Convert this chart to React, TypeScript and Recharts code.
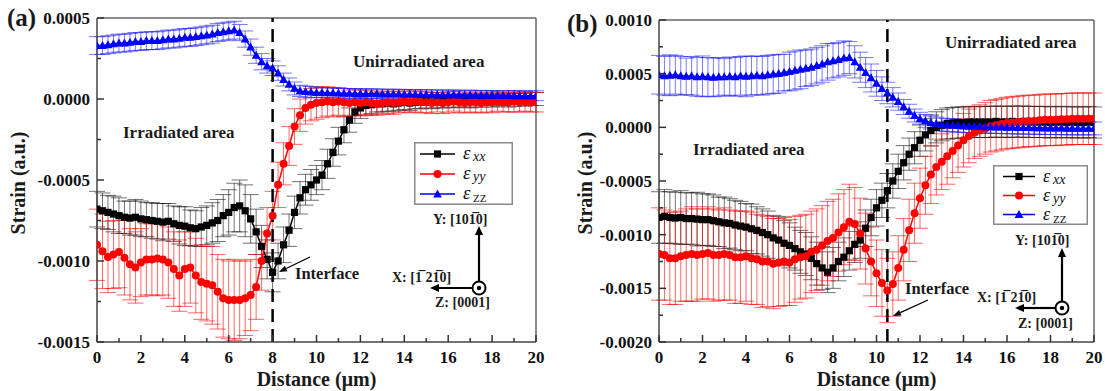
import React from 'react'
import { LineChart, Line, XAxis, YAxis, ErrorBar, ReferenceLine, Legend } from 'recharts'

const SERIF = '"Liberation Serif", "Times New Roman", serif'

// distance along the scan (µm), same grid for both panels
const distance = [
  0, 0.25, 0.5, 0.75, 1, 1.25, 1.5, 1.75, 2, 2.25,
  2.5, 2.75, 3, 3.25, 3.5, 3.75, 4, 4.25, 4.5, 4.75,
  5, 5.25, 5.5, 5.75, 6, 6.25, 6.5, 6.75, 7, 7.25,
  7.5, 7.75, 8, 8.25, 8.5, 8.75, 9, 9.25, 9.5, 9.75,
  10, 10.25, 10.5, 10.75, 11, 11.25, 11.5, 11.75, 12, 12.25,
  12.5, 12.75, 13, 13.25, 13.5, 13.75, 14, 14.25, 14.5, 14.75,
  15, 15.25, 15.5, 15.75, 16, 16.25, 16.5, 16.75, 17, 17.25,
  17.5, 17.75, 18, 18.25, 18.5, 18.75, 19, 19.25, 19.5, 19.75,
  20,
]

// all strain values below are in units of 1e-4

// panel (a)
const exxA = [
  -6.8, -6.9, -7.0, -7.1, -7.2, -7.3, -7.35, -7.3, -7.4, -7.45,
  -7.5, -7.55, -7.6, -7.55, -7.7, -7.8, -7.85, -7.95, -8.0, -7.9,
  -7.8, -7.65, -7.5, -7.2, -7.0, -6.7, -6.6, -6.9, -7.4, -8.2,
  -9.1, -9.9, -10.7, -10.0, -9.0, -8.1, -7.0, -6.1, -5.6, -5.3,
  -5.0, -4.7, -4.0, -3.3, -2.6, -1.9, -1.3, -0.8, -0.55, -0.4,
  -0.35, -0.3, -0.3, -0.25, -0.3, -0.25, -0.2, -0.25, -0.2, -0.2,
  -0.15, -0.2, -0.15, -0.15, -0.1, -0.15, -0.1, -0.1, -0.15, -0.1,
  -0.1, -0.05, -0.1, -0.05, -0.05, -0.1, -0.05, 0, -0.05, 0,
  0,
]
const exxErrA = [
  1.1, 1.1, 1.05, 1.1, 1.1, 1.0, 1.05, 1.1, 1.1, 1.05,
  1.1, 1.1, 1.15, 1.1, 1.1, 1.15, 1.2, 1.1, 1.1, 1.2,
  1.2, 1.25, 1.3, 1.3, 1.4, 1.5, 1.6, 1.6, 1.5, 1.4,
  1.3, 1.2, 1.2, 1.1, 1.1, 1.0, 1.0, 1.0, 0.95, 0.95,
  0.9, 0.9, 0.9, 0.85, 0.85, 0.8, 0.75, 0.7, 0.65, 0.6,
  0.55, 0.5, 0.5, 0.5, 0.45, 0.45, 0.45, 0.45, 0.4, 0.4,
  0.4, 0.4, 0.4, 0.4, 0.4, 0.4, 0.4, 0.4, 0.4, 0.4,
  0.4, 0.35, 0.4, 0.4, 0.35, 0.4, 0.4, 0.35, 0.4, 0.4,
  0.4,
]
const eyyA = [
  -9.0, -9.4, -9.75, -9.6, -9.45, -9.8, -10.2, -10.4, -10.1, -9.9,
  -9.9, -9.85, -9.9, -10.1, -10.5, -10.9, -10.5, -10.4, -10.9, -11.3,
  -11.4, -11.5, -11.9, -12.3, -12.4, -12.4, -12.4, -12.3, -12.1, -11.6,
  -10.0, -8.3, -7.2, -5.3, -4.0, -2.9, -1.7, -1.0, -0.55, -0.35,
  -0.25, -0.2, -0.15, -0.2, -0.15, -0.2, -0.25, -0.2, -0.25, -0.2,
  -0.25, -0.3, -0.25, -0.2, -0.25, -0.2, -0.15, -0.2, -0.15, -0.2,
  -0.2, -0.25, -0.2, -0.25, -0.2, -0.15, -0.2, -0.25, -0.2, -0.2,
  -0.25, -0.2, -0.2, -0.15, -0.2, -0.2, -0.15, -0.2, -0.15, -0.2,
  -0.2,
]
const eyyErrA = [
  2.2, 2.3, 2.2, 2.1, 2.2, 2.3, 2.2, 2.2, 2.1, 2.2,
  2.2, 2.3, 2.2, 2.2, 2.3, 2.2, 2.3, 2.2, 2.3, 2.3,
  2.3, 2.4, 2.3, 2.4, 2.4, 2.5, 2.4, 2.3, 2.2, 2.0,
  1.8, 1.6, 1.5, 1.4, 1.3, 1.2, 1.1, 1.0, 1.0, 1.0,
  1.0, 0.95, 0.9, 0.9, 0.85, 0.85, 0.8, 0.8, 0.8, 0.75,
  0.75, 0.7, 0.7, 0.7, 0.7, 0.65, 0.65, 0.65, 0.65, 0.65,
  0.65, 0.65, 0.6, 0.65, 0.65, 0.6, 0.65, 0.6, 0.6, 0.65,
  0.6, 0.6, 0.65, 0.6, 0.6, 0.6, 0.65, 0.6, 0.6, 0.6,
  0.6,
]
const ezzA = [
  3.3, 3.3, 3.35, 3.4, 3.45, 3.45, 3.5, 3.55, 3.55, 3.6,
  3.6, 3.6, 3.65, 3.7, 3.7, 3.75, 3.8, 3.8, 3.85, 3.9,
  3.95, 4.0, 4.1, 4.15, 4.2, 4.25, 4.1, 3.7, 3.2, 2.7,
  2.3, 2.05, 1.9, 1.6, 1.2, 0.9, 0.65, 0.5, 0.45, 0.42,
  0.4, 0.4, 0.38, 0.38, 0.36, 0.35, 0.35, 0.34, 0.33, 0.33,
  0.32, 0.32, 0.3, 0.3, 0.3, 0.3, 0.28, 0.28, 0.28, 0.27,
  0.27, 0.26, 0.26, 0.25, 0.25, 0.25, 0.24, 0.24, 0.24, 0.23,
  0.23, 0.22, 0.22, 0.22, 0.21, 0.21, 0.2, 0.2, 0.2, 0.2,
  0.2,
]
const ezzErrA = [
  0.55, 0.55, 0.55, 0.55, 0.55, 0.55, 0.55, 0.55, 0.55, 0.55,
  0.55, 0.55, 0.55, 0.55, 0.55, 0.55, 0.55, 0.55, 0.55, 0.55,
  0.55, 0.55, 0.55, 0.55, 0.55, 0.55, 0.5, 0.5, 0.5, 0.5,
  0.5, 0.45, 0.45, 0.45, 0.4, 0.4, 0.4, 0.35, 0.35, 0.35,
  0.3, 0.3, 0.3, 0.3, 0.3, 0.3, 0.3, 0.3, 0.3, 0.3,
  0.3, 0.3, 0.3, 0.3, 0.3, 0.3, 0.3, 0.3, 0.3, 0.3,
  0.3, 0.3, 0.3, 0.3, 0.3, 0.3, 0.3, 0.3, 0.3, 0.3,
  0.3, 0.3, 0.3, 0.3, 0.3, 0.3, 0.3, 0.3, 0.3, 0.3,
  0.3,
]

// panel (b)
const exxB = [
  -8.4, -8.3, -8.4, -8.45, -8.4, -8.5, -8.5, -8.55, -8.6, -8.6,
  -8.7, -8.8, -8.9, -8.95, -9.1, -9.2, -9.3, -9.45, -9.6, -9.8,
  -10.0, -10.3, -10.5, -10.8, -11.0, -11.3, -11.6, -11.8, -12.2, -12.7,
  -13.1, -13.5, -13.1, -12.5, -12.1, -11.5, -10.9, -10.5, -9.4, -8.4,
  -7.5, -6.8, -5.9, -5.0, -4.1, -3.3, -2.5, -1.9, -1.2, -0.7,
  -0.3, 0.0, 0.2, 0.35, 0.4, 0.45, 0.45, 0.5, 0.5, 0.5,
  0.5, 0.5, 0.55, 0.5, 0.5, 0.55, 0.5, 0.55, 0.5, 0.5,
  0.5, 0.5, 0.45, 0.5, 0.5, 0.45, 0.5, 0.45, 0.45, 0.5,
  0.45,
]
const exxErrB = [
  2.4, 2.5, 2.4, 2.4, 2.5, 2.4, 2.4, 2.5, 2.4, 2.4,
  2.4, 2.3, 2.4, 2.3, 2.3, 2.3, 2.2, 2.3, 2.2, 2.2,
  2.2, 2.1, 2.2, 2.1, 2.1, 2.0, 2.0, 2.0, 2.0, 2.0,
  2.0, 1.9, 1.9, 1.8, 1.8, 1.8, 1.7, 1.7, 1.7, 1.7,
  1.7, 1.6, 1.6, 1.6, 1.6, 1.6, 1.5, 1.5, 1.5, 1.5,
  1.45, 1.45, 1.45, 1.45, 1.45, 1.45, 1.45, 1.45, 1.45, 1.45,
  1.45, 1.45, 1.45, 1.45, 1.45, 1.45, 1.45, 1.45, 1.45, 1.45,
  1.45, 1.45, 1.45, 1.45, 1.45, 1.45, 1.45, 1.45, 1.45, 1.45,
  1.45,
]
const eyyB = [
  -11.8, -11.9, -12.2, -12.2, -12.0, -11.9, -11.8, -11.9, -11.8, -11.7,
  -11.9, -11.9, -11.8, -11.9, -12.1, -12.1, -12.0, -12.2, -12.3, -12.5,
  -12.5, -12.7, -12.6, -12.5, -12.6, -12.3, -12.1, -12.0, -11.6, -11.4,
  -11.0, -10.6, -10.3, -9.8, -9.3, -8.8, -9.0, -9.9, -11.3, -12.5,
  -13.6, -14.5, -15.2, -14.6, -13.1, -11.4, -9.6, -8.0, -6.6, -5.4,
  -4.4, -3.7, -3.2, -2.7, -2.2, -1.7, -1.2, -0.8, -0.5, -0.3,
  -0.1, 0.1, 0.2, 0.3, 0.4, 0.45, 0.5, 0.55, 0.6, 0.6,
  0.65, 0.7, 0.7, 0.7, 0.75, 0.75, 0.8, 0.8, 0.8, 0.8,
  0.8,
]
const eyyErrB = [
  4.3, 4.2, 4.3, 4.3, 4.2, 4.3, 4.4, 4.3, 4.2, 4.3,
  4.3, 4.2, 4.3, 4.2, 4.3, 4.3, 4.2, 4.3, 4.2, 4.3,
  4.2, 4.2, 4.1, 4.1, 4.0, 4.0, 3.9, 3.9, 3.8, 3.8,
  3.7, 3.7, 3.6, 3.6, 3.5, 3.5, 3.4, 3.3, 3.3, 3.2,
  3.1, 3.1, 3.0, 3.0, 3.0, 2.9, 2.9, 2.8, 2.8, 2.7,
  2.7, 2.6, 2.6, 2.6, 2.5, 2.5, 2.5, 2.5, 2.4, 2.4,
  2.4, 2.4, 2.4, 2.4, 2.4, 2.4, 2.4, 2.4, 2.4, 2.4,
  2.4, 2.4, 2.4, 2.4, 2.4, 2.4, 2.4, 2.4, 2.4, 2.4,
  2.4,
]
const ezzB = [
  4.9, 4.8, 4.85, 4.9, 4.8, 4.75, 4.8, 4.7, 4.75, 4.7,
  4.65, 4.7, 4.7, 4.75, 4.7, 4.8, 4.75, 4.8, 4.85, 4.8,
  4.9, 4.95, 5.0, 5.1, 5.2, 5.3, 5.4, 5.5, 5.6, 5.75,
  5.9, 6.1, 6.2, 6.3, 6.45, 6.5, 6.1, 5.6, 5.1, 4.6,
  4.1, 3.6, 3.2, 2.8, 2.4, 1.9, 1.5, 1.1, 0.8, 0.6,
  0.45, 0.35, 0.25, 0.2, 0.18, 0.15, 0.12, 0.1, 0.1, 0.08,
  0.05, 0.05, 0.03, 0.02, 0, 0, -0.02, -0.03, -0.03, -0.05,
  -0.05, -0.06, -0.07, -0.08, -0.08, -0.09, -0.1, -0.1, -0.1, -0.1,
  -0.1,
]
const ezzErrB = [
  1.8, 1.8, 1.9, 1.8, 1.8, 1.7, 1.8, 1.8, 1.9, 1.8,
  1.8, 1.8, 1.7, 1.8, 1.8, 1.8, 1.9, 1.8, 1.8, 1.8,
  1.8, 1.8, 1.8, 1.7, 1.8, 1.8, 1.8, 1.7, 1.7, 1.7,
  1.7, 1.7, 1.6, 1.6, 1.6, 1.5, 1.5, 1.4, 1.4, 1.3,
  1.2, 1.1, 1.0, 0.9, 0.8, 0.7, 0.65, 0.6, 0.6, 0.6,
  0.6, 0.6, 0.6, 0.6, 0.6, 0.6, 0.6, 0.6, 0.6, 0.6,
  0.6, 0.6, 0.6, 0.6, 0.6, 0.6, 0.6, 0.6, 0.6, 0.6,
  0.6, 0.6, 0.6, 0.6, 0.6, 0.6, 0.6, 0.6, 0.6, 0.6,
  0.6,
]

const xTicks = [0, 1, 2, 3, 4, 5, 6, 7, 8, 9, 10, 11, 12, 13, 14, 15, 16, 17, 18, 19, 20]
const yTicksA = [-15, -12.5, -10, -7.5, -5, -2.5, 0, 2.5, 5]
const yTicksB = [-20, -17.5, -15, -12.5, -10, -7.5, -5, -2.5, 0, 2.5, 5, 7.5, 10]

const buildRows = (
  exx: number[], exxErr: number[], eyy: number[], eyyErr: number[], ezz: number[], ezzErr: number[],
) =>
  distance.map((x, i) => ({
    x,
    exx: exx[i], exxErr: exxErr[i],
    eyy: eyy[i], eyyErr: eyyErr[i],
    ezz: ezz[i], ezzErr: ezzErr[i],
  }))

const rowsA = buildRows(exxA, exxErrA, eyyA, eyyErrA, ezzA, ezzErrA)
const rowsB = buildRows(exxB, exxErrB, eyyB, eyyErrB, ezzB, ezzErrB)

const SquareDot = (p: any) => (
  <rect key={p.key} x={p.cx - 3.6} y={p.cy - 3.6} width={7.2} height={7.2} fill="#000" />
)
const CircleDot = (p: any) => <circle key={p.key} cx={p.cx} cy={p.cy} r={4} fill="#ff0000" />
const TriangleDot = (p: any) => (
  <path
    key={p.key}
    d={`M${p.cx},${p.cy - 4.6}L${p.cx + 4.4},${p.cy + 3.4}L${p.cx - 4.4},${p.cy + 3.4}Z`}
    fill="#0000ff"
  />
)

const XTick = ({ x, y, payload }: any) => {
  const major = payload.value % 2 === 0
  return (
    <g>
      <line x1={x} y1={y} x2={x} y2={y - (major ? 7 : 4)} stroke="#333" strokeWidth={1.5} />
      {major && (
        <text x={x} y={y + 21} textAnchor="middle" fontFamily={SERIF} fontWeight="bold" fontSize={17} fill="#111">
          {payload.value}
        </text>
      )}
    </g>
  )
}

const YTick = ({ x, y, payload }: any) => {
  const major = Math.abs(payload.value % 5) < 1e-6
  return (
    <g>
      <line x1={x} y1={y} x2={x + (major ? 7 : 4)} y2={y} stroke="#333" strokeWidth={1.5} />
      {major && (
        <text x={x - 7} y={y + 6} textAnchor="end" fontFamily={SERIF} fontWeight="bold" fontSize={17} fill="#111">
          {(payload.value * 1e-4).toFixed(4)}
        </text>
      )}
    </g>
  )
}

const LEGEND_ITEMS = [
  { sub: 'xx', color: '#000', Dot: SquareDot, italic: true },
  { sub: 'yy', color: '#ff0000', Dot: CircleDot, italic: true },
  { sub: 'ZZ', color: '#0000ff', Dot: TriangleDot, italic: false },
]

const StrainLegend = ({ w, h, rows, lineX, textX, eps }: any) => (
  <svg width={w} height={h} style={{ display: 'block', overflow: 'visible' }}>
    <rect x={0.75} y={0.75} width={w - 1.5} height={h - 1.5} fill="#fff" stroke="#8a8a8a" strokeWidth={1.5} />
    {LEGEND_ITEMS.map((it, i) => {
      const cy = rows[i]
      const mid = (lineX[0] + lineX[1]) / 2
      return (
        <g key={it.sub}>
          <line x1={lineX[0]} x2={lineX[1]} y1={cy} y2={cy} stroke={it.color} strokeWidth={1.5} />
          {it.Dot({ cx: mid, cy, key: 'm' })}
          <text x={textX} y={cy + 5} fontFamily={SERIF} fontSize={eps} fontStyle="italic" fill="#111">ε</text>
          <text
            x={textX + 10}
            y={cy + (it.italic ? 7 : 8)}
            fontFamily={SERIF}
            fontSize={it.italic ? 14 : 11}
            fontStyle={it.italic ? 'italic' : 'normal'}
            fill="#111"
          >
            {it.sub}
          </text>
        </g>
      )
    })}
  </svg>
)

function StrainPanel({ rows, width, margin, yDomain, yTicks, interfaceX, legend }: any) {
  return (
    <LineChart width={width} height={391} data={rows} margin={margin}>
      <XAxis
        type="number"
        dataKey="x"
        domain={[0, 20]}
        ticks={xTicks}
        interval={0}
        allowDataOverflow
        height={30}
        tickSize={0}
        tickMargin={0}
        tickLine={false}
        tick={<XTick />}
        axisLine={{ stroke: '#444', strokeWidth: 1.5 }}
      />
      <YAxis
        type="number"
        domain={yDomain}
        ticks={yTicks}
        interval={0}
        allowDataOverflow
        width={80}
        tickSize={0}
        tickMargin={0}
        tickLine={false}
        tick={<YTick />}
        axisLine={{ stroke: '#444', strokeWidth: 1.5 }}
      />
      <ReferenceLine y={yDomain[1]} stroke="#666" strokeWidth={1.5} />
      <ReferenceLine x={20} stroke="#666" strokeWidth={1.5} />
      <Line dataKey="exx" name="exx" stroke="#000" strokeWidth={1.5} dot={SquareDot} activeDot={false} isAnimationActive={false}>
        <ErrorBar dataKey="exxErr" direction="y" width={8} stroke="rgba(20,20,20,0.6)" strokeWidth={1} />
      </Line>
      <Line dataKey="eyy" name="eyy" stroke="#ff0000" strokeWidth={1.5} dot={CircleDot} activeDot={false} isAnimationActive={false}>
        <ErrorBar dataKey="eyyErr" direction="y" width={8} stroke="rgba(255,0,0,0.6)" strokeWidth={1} />
      </Line>
      <Line dataKey="ezz" name="ezz" stroke="#0000ff" strokeWidth={1.5} dot={TriangleDot} activeDot={false} isAnimationActive={false}>
        <ErrorBar dataKey="ezzErr" direction="y" width={8} stroke="rgba(30,30,255,0.6)" strokeWidth={1} />
      </Line>
      <ReferenceLine x={interfaceX} stroke="#000" strokeWidth={2.5} strokeDasharray="13 7" />
      <Legend
        layout="vertical"
        align="center"
        verticalAlign="middle"
        wrapperStyle={{ left: legend.left, top: legend.top, width: legend.w, height: legend.h }}
        content={() => <StrainLegend {...legend} />}
      />
    </LineChart>
  )
}

const label = { fontFamily: SERIF, fontWeight: 'bold' as const, fill: '#1a1a1a' }

function CoordSystem({ cx, cy, top, left, yText, xText, zText }: any) {
  return (
    <g>
      <line x1={cx} y1={cy - 7} x2={cx} y2={top + 8} stroke="#000" strokeWidth={2.2} />
      <path d={`M${cx},${top}L${cx + 4},${top + 9}L${cx - 4},${top + 9}Z`} fill="#000" />
      <line x1={cx - 7} y1={cy} x2={left + 8} y2={cy} stroke="#000" strokeWidth={2.2} />
      <path d={`M${left},${cy}L${left + 9},${cy - 4}L${left + 9},${cy + 4}Z`} fill="#000" />
      <circle cx={cx} cy={cy} r={6.5} fill="#fff" stroke="#000" strokeWidth={2} />
      <circle cx={cx} cy={cy} r={2.2} fill="#000" />
      <text x={yText[0]} y={yText[1]} fontSize={14} {...label}>Y: [101{'\u0305'}0]</text>
      <text x={xText[0]} y={xText[1]} fontSize={14} {...label}>X: [1{'\u0305'} 21{'\u0305'}0]</text>
      <text x={zText[0]} y={zText[1]} fontSize={14} {...label}>Z: [0001]</text>
    </g>
  )
}

function InterfaceNote({ tx, ty, from, to }: any) {
  const ang = Math.atan2(to[1] - from[1], to[0] - from[0])
  const hx = to[0] - 8 * Math.cos(ang)
  const hy = to[1] - 8 * Math.sin(ang)
  const px = 3 * Math.sin(ang)
  const py = -3 * Math.cos(ang)
  return (
    <g>
      <line x1={from[0]} y1={from[1]} x2={hx} y2={hy} stroke="#000" strokeWidth={1.3} />
      <path d={`M${to[0]},${to[1]}L${hx + px},${hy + py}L${hx - px},${hy - py}Z`} fill="#000" />
      <text x={tx} y={ty} fontSize={16.5} {...label}>Interface</text>
    </g>
  )
}

export default function App() {
  return (
    <div style={{ position: 'absolute', left: 0, top: 0, width: 1105, height: 391, background: '#fff', overflow: 'hidden' }}>
      <div style={{ position: 'absolute', left: 0, top: 0 }}>
        <StrainPanel
          rows={rowsA}
          width={550}
          margin={{ top: 18, right: 14, bottom: 19, left: 17 }}
          yDomain={[-15, 5]}
          yTicks={yTicksA}
          interfaceX={8}
          legend={{ left: 414, top: 142, w: 99, h: 63, rows: [12, 32, 52], lineX: [6, 41], textX: 49, eps: 19 }}
        />
      </div>
      <div style={{ position: 'absolute', left: 560, top: 0 }}>
        <StrainPanel
          rows={rowsB}
          width={545}
          margin={{ top: 20, right: 11, bottom: 19, left: 19 }}
          yDomain={[-20, 10]}
          yTicks={yTicksB}
          interfaceX={10.5}
          legend={{ left: 433, top: 165, w: 95, h: 60, rows: [11.5, 30.5, 49.5], lineX: [10, 42], textX: 50, eps: 18 }}
        />
      </div>
      <svg
        width={1105}
        height={391}
        style={{ position: 'absolute', left: 0, top: 0, pointerEvents: 'none' }}
      >
        {/* panel (a) */}
        <text x={7} y={26} fontSize={25} {...label}>(a)</text>
        <text x={123} y={138} fontSize={17} {...label}>Irradiated area</text>
        <text x={353} y={67} fontSize={17} {...label}>Unirradiated area</text>
        <InterfaceNote tx={295} ty={279} from={[310, 257]} to={[279, 272]} />
        <CoordSystem cx={479} cy={288} top={226} left={430} yText={[433, 224]} xText={[392, 282]} zText={[435, 307]} />
        <text x={316.5} y={386} textAnchor="middle" fontSize={20} {...label}>Distance (μm)</text>
        <text x={25} y={183} textAnchor="middle" fontSize={20} transform="rotate(-90 25 183)" {...label}>Strain (a.u.)</text>

        {/* panel (b) */}
        <text x={567} y={32} fontSize={25} {...label}>(b)</text>
        <text x={693} y={155} fontSize={17} {...label}>Irradiated area</text>
        <text x={945} y={48} fontSize={17} {...label}>Unirradiated area</text>
        <InterfaceNote tx={905} ty={294} from={[928, 300]} to={[893, 316]} />
        <CoordSystem cx={1062} cy={308} top={248} left={1015} yText={[1015, 245]} xText={[977, 302]} zText={[1018, 328]} />
        <text x={876.5} y={386} textAnchor="middle" fontSize={20} {...label}>Distance (μm)</text>
        <text x={592} y={183} textAnchor="middle" fontSize={20} transform="rotate(-90 592 183)" {...label}>Strain (a.u.)</text>
      </svg>
    </div>
  )
}
